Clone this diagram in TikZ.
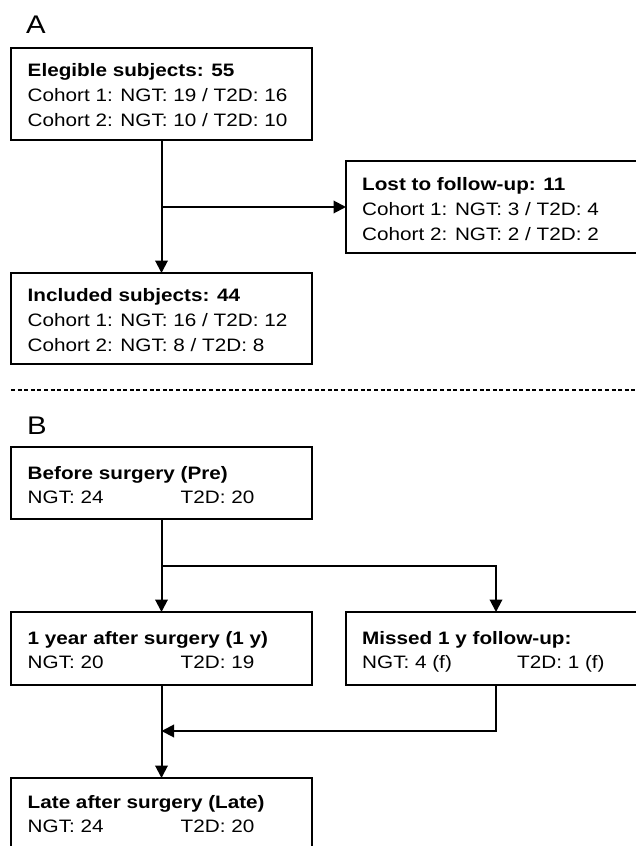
\documentclass[tikz,border=0pt]{standalone}
\usepackage{fontspec}
\setmainfont{Liberation Sans}[FakeStretch=1.15]
\usetikzlibrary{arrows.meta}
\begin{document}
\begin{tikzpicture}[x=1pt,y=-1pt,
  box/.style={draw, line width=2pt, inner sep=0pt, outer sep=0pt, anchor=north west},
  txt/.style={anchor=base west, inner sep=0pt, font=\fontsize{18}{25}\selectfont},
  lbl/.style={anchor=base west, inner sep=0pt, font=\fontsize{25.5}{30}\selectfont},
  con/.style={line width=2pt, -{Triangle[length=12.5pt,width=12.5pt]}},
  sep/.style={line width=1.6pt, dash pattern=on 4pt off 2.6pt}]
\useasboundingbox (0,0) rectangle (636,846);
\fill[white] (0,0) rectangle (636,846);
\clip (0,0) rectangle (636,846);

% Panel A
\node[lbl] (la) at (26,33) {A};
\node[box, minimum width=301pt, minimum height=92pt] (elig) at (11,48) {};
\node[txt] (eligt) at (27.5,76) {\begin{tabular}[t]{@{}l@{}}\textbf{Elegible subjects: 55}\\ Cohort 1: NGT: 19 / T2D: 16\\ Cohort 2: NGT: 10 / T2D: 10\end{tabular}};

\node[box, minimum width=300pt, minimum height=92pt] (lost) at (346,161) {};
\node[txt] (lostt) at (362,190) {\begin{tabular}[t]{@{}l@{}}\textbf{Lost to follow-up: 11}\\ Cohort 1: NGT: 3 / T2D: 4\\ Cohort 2: NGT: 2 / T2D: 2\end{tabular}};

\node[box, minimum width=301pt, minimum height=91pt] (incl) at (11,273) {};
\node[txt] (inclt) at (27.5,301.5) {\begin{tabular}[t]{@{}l@{}}\textbf{Included subjects: 44}\\ Cohort 1: NGT: 16 / T2D: 12\\ Cohort 2: NGT: 8 / T2D: 8\end{tabular}};

\draw[con] (elig.south) -- (incl.north);
\coordinate (b1) at (elig.south |- lost.west);
\draw[con] (b1) -- (lost.west);

% separator
\draw[sep] (11,390) -- (636,390);

% Panel B
\node[lbl] (lb) at (27,434) {B};
\node[box, minimum width=301pt, minimum height=72pt] (pre) at (11,447) {};
\node[txt] (pret) at (27.5,479) {\begin{tabular}[t]{@{}l@{}}\textbf{Before surgery (Pre)}\\[-0.5pt] \makebox[153pt][l]{NGT: 24}T2D: 20\end{tabular}};

\node[box, minimum width=301pt, minimum height=73pt] (y1) at (11,612) {};
\node[txt] (y1t) at (27.5,644) {\begin{tabular}[t]{@{}l@{}}\textbf{1 year after surgery (1 y)}\\[-0.5pt] \makebox[153pt][l]{NGT: 20}T2D: 19\end{tabular}};

\node[box, minimum width=300pt, minimum height=73pt] (missed) at (346,612) {};
\node[txt] (missedt) at (362,644) {\begin{tabular}[t]{@{}l@{}}\textbf{Missed 1 y follow-up:}\\[-0.5pt] \makebox[155pt][l]{NGT: 4 (f)}T2D: 1 (f)\end{tabular}};

\node[box, minimum width=301pt, minimum height=90pt] (late) at (11,778) {};
\node[txt] (latet) at (27.5,808) {\begin{tabular}[t]{@{}l@{}}\textbf{Late after surgery (Late)}\\[-0.5pt] \makebox[153pt][l]{NGT: 24}T2D: 20\end{tabular}};

\draw[con] (pre.south) -- (y1.north);
\path (pre.south) ++(0,47) coordinate (b2);
\draw[con] (b2) -| (missed.north);
\path (y1.south) ++(0,46) coordinate (b3);
\draw[con] (missed.south) |- (b3);
\draw[con] (y1.south) -- (late.north);
\end{tikzpicture}
\end{document}
